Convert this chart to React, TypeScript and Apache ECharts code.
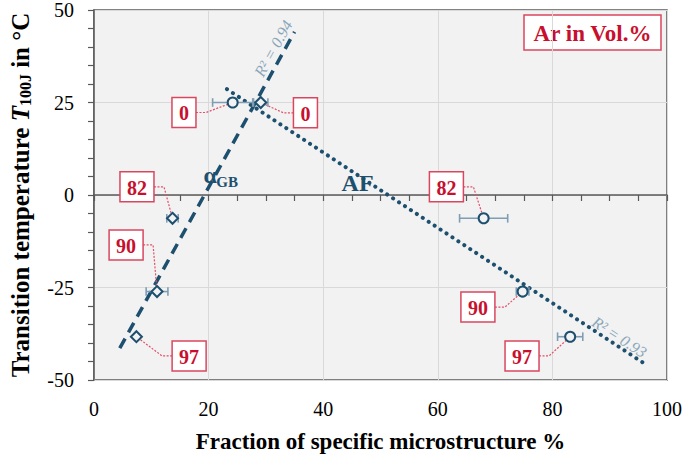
import React, { useEffect, useRef } from 'react';
import * as echarts from 'echarts';

// ---- data ----
const arVol = ['0', '82', '90', '97'];
// Acicular ferrite (AF) – circles
const afX = [24.2, 68.0, 74.8, 83.1];
const afY = [25, -6.3, -26.1, -38.3];
const afErr = [3.5, 4.2, 1.1, 2.2];
// Grain boundary ferrite (alpha_GB) – diamonds
const gbX = [29.1, 13.7, 11.0, 7.4];
const gbY = [25, -6.3, -26.1, -38.3];
const gbErr = [1.25, 1.0, 1.9, 0];
// trend lines (end points)
const gbTrendX = [4.5, 35.0];
const gbTrendY = [-41.4, 44.1];
const afTrendX = [23.2, 96.0];
const afTrendY = [28.6, -45.5];
// callout box anchor positions (data units)
const afCallX = [15.7, 61.5, 67.0, 74.7];
const afCallY = [22.3, 2.2, -30.3, -43.5];
const gbCallX = [36.9, 7.5, 5.6, 16.6];
const gbCallY = [22.2, 2.2, -13.5, -43.5];
// annotation texts and anchors (data units)
const annTexts = ['α', 'AF', 'R² = 0.94', 'R² = 0.93'];
const annX = [20.3, 46.0, 31.3, 91.7];
const annY = [5.4, 3.2, 39.6, -38.4];
const annRot = [0, 0, 61, -33];

const FONT = '"Liberation Serif", "Times New Roman", serif';
const DARK = '#1d4f6e';
const ERR = '#7f9db3';
const RTXT = '#8aa6b9';
const RED = '#c8102e';
const RED_BORDER = '#d9475f';
const AXIS = '#595959';

const errRender = (params: any, api: any) => {
  const x = api.value(0), y = api.value(1), e = api.value(2);
  if (!e) return { type: 'group', children: [] };
  const l = api.coord([x - e, y]);
  const r = api.coord([x + e, y]);
  const c = 4.3;
  const st = { stroke: ERR, lineWidth: 1.6 };
  return {
    type: 'group',
    children: [
      { type: 'line', shape: { x1: l[0], y1: l[1], x2: r[0], y2: r[1] }, style: st },
      { type: 'line', shape: { x1: l[0], y1: l[1] - c, x2: l[0], y2: l[1] + c }, style: st },
      { type: 'line', shape: { x1: r[0], y1: r[1] - c, x2: r[0], y2: r[1] + c }, style: st },
    ],
  };
};

const calloutRender = (params: any, api: any) => {
  const p = api.coord([api.value(0), api.value(1)]);
  const b = api.coord([api.value(2), api.value(3)]);
  const txt = arVol[params.dataIndex % arVol.length];
  const w = txt.length > 1 ? 34 : 24;
  const h = 30;
  const dir = p[0] > b[0] ? 1 : -1;
  const ex = b[0] + (dir * w) / 2;
  const elbow = [ex + dir * 10, b[1]];
  const dx = p[0] - elbow[0];
  const dy = p[1] - elbow[1];
  const len = Math.hypot(dx, dy) || 1;
  const end = [p[0] - (dx / len) * 5, p[1] - (dy / len) * 5];
  return {
    type: 'group',
    children: [
      {
        type: 'polyline',
        shape: { points: [[ex, b[1]], elbow, end] },
        style: { stroke: '#e0506a', lineWidth: 1.2, lineDash: [2, 1.5], fill: null },
      },
      {
        type: 'rect',
        shape: { x: b[0] - w / 2, y: b[1] - h / 2, width: w, height: h },
        style: { fill: '#ffffff', stroke: RED_BORDER, lineWidth: 1.5 },
      },
      {
        type: 'text',
        x: b[0],
        y: b[1] + 1,
        style: {
          text: txt,
          font: `bold 20px ${FONT}`,
          fill: RED,
          align: 'center',
          verticalAlign: 'middle',
          textAlign: 'center',
          textVerticalAlign: 'middle',
        },
      },
    ],
  };
};

const annRender = (params: any, api: any) => {
  const i = params.dataIndex;
  const a = api.coord([api.value(0), api.value(1)]);
  const txt = annTexts[i];
  const isR = txt.startsWith('R');
  const children: any[] = [
    {
      type: 'text',
      x: a[0],
      y: a[1],
      rotation: (annRot[i] * Math.PI) / 180,
      style: {
        text: txt,
        font: isR ? `italic 16px ${FONT}` : `bold 24px ${FONT}`,
        fill: isR ? RTXT : DARK,
        align: 'center',
        verticalAlign: 'middle',
        textAlign: 'center',
        textVerticalAlign: 'middle',
      },
    },
  ];
  if (txt === 'α') {
    children.push({
      type: 'text',
      x: a[0] + 6,
      y: a[1] + 7,
      style: {
        text: 'GB',
        font: `bold 15px ${FONT}`,
        fill: DARK,
        align: 'left',
        verticalAlign: 'middle',
        textAlign: 'left',
        textVerticalAlign: 'middle',
      },
    });
  }
  return { type: 'group', children };
};

export default function App() {
  const ref = useRef<HTMLDivElement>(null);
  useEffect(() => {
    if (!ref.current) return;
    const chart = echarts.init(ref.current, undefined, { renderer: 'svg' });
    const axisLabel = { fontFamily: FONT, fontSize: 20, color: '#000' };
    chart.setOption({
      animation: false,
      backgroundColor: '#ffffff',
      grid: {
        left: 87,
        right: 18,
        top: 10,
        bottom: 81,
        show: true,
        backgroundColor: '#f2f2f2',
        borderColor: AXIS,
        borderWidth: 1.5,
      },
      xAxis: {
        type: 'value',
        min: 0,
        max: 100,
        interval: 20,
        name: 'Fraction of specific microstructure %',
        nameLocation: 'middle',
        nameGap: 50,
        nameTextStyle: { fontFamily: FONT, fontSize: 23, fontWeight: 'bold', color: '#000' },
        axisLine: { lineStyle: { color: AXIS, width: 1.5 } },
        axisTick: { show: true, inside: false, length: 6, lineStyle: { color: AXIS, width: 1.2 } },
        minorTick: { show: true, splitNumber: 4, length: 6, lineStyle: { color: AXIS, width: 1.2 } },
        axisLabel: { ...axisLabel, margin: 19 },
        splitLine: { show: true, lineStyle: { color: '#d9d9d9', width: 1 } },
      },
      yAxis: {
        type: 'value',
        min: -50,
        max: 50,
        interval: 25,
        name: '{b|Transition temperature }{i|T}{s|100J}{b| in °C}',
        nameLocation: 'middle',
        nameGap: 61,
        nameRotate: 90,
        nameTextStyle: {
          fontFamily: FONT,
          fontSize: 25,
          fontWeight: 'bold',
          color: '#000',
          rich: {
            b: { fontFamily: FONT, fontSize: 25, fontWeight: 'bold', color: '#000' },
            i: { fontFamily: FONT, fontSize: 25, fontWeight: 'bold', fontStyle: 'italic', color: '#000' },
            s: { fontFamily: FONT, fontSize: 16, fontWeight: 'bold', color: '#000', verticalAlign: 'bottom' },
          },
        },
        axisLine: { show: true, lineStyle: { color: AXIS, width: 1.5 } },
        axisTick: { show: true, inside: false, length: 6, lineStyle: { color: AXIS, width: 1.2 } },
        minorTick: { show: true, splitNumber: 5, length: 6, lineStyle: { color: AXIS, width: 1.2 } },
        axisLabel: { ...axisLabel, margin: 20 },
        splitLine: { show: true, lineStyle: { color: '#d9d9d9', width: 1 } },
      },
      graphic: [
        {
          type: 'group',
          children: [
            {
              type: 'rect',
              shape: { x: 524, y: 15, width: 137, height: 35 },
              style: { fill: '#ffffff', stroke: RED_BORDER, lineWidth: 1.5 },
            },
            {
              type: 'text',
              x: 592.5,
              y: 33,
              style: {
                text: 'Ar in Vol.%',
                font: `bold 23px ${FONT}`,
                fill: RED,
                align: 'center',
                verticalAlign: 'middle',
                textAlign: 'center',
                textVerticalAlign: 'middle',
              },
            },
          ],
        },
      ],
      series: [
        {
          name: 'αGB trend',
          type: 'line',
          data: gbTrendX.map((x, i) => [x, gbTrendY[i]]),
          showSymbol: false,
          symbol: 'none',
          lineStyle: { color: DARK, width: 3.5, type: [11, 7] },
          z: 2,
        },
        {
          name: 'AF trend',
          type: 'line',
          data: afTrendX.map((x, i) => [x, afTrendY[i]]),
          showSymbol: false,
          symbol: 'none',
          lineStyle: { color: DARK, width: 4, type: [0.1, 7], cap: 'round' },
          z: 2,
        },
        {
          name: 'callouts',
          type: 'custom',
          renderItem: calloutRender,
          data: [
            ...afX.map((x, i) => [x, afY[i], afCallX[i], afCallY[i]]),
            ...gbX.map((x, i) => [x, gbY[i], gbCallX[i], gbCallY[i]]),
          ],
          z: 3,
        },
        {
          name: 'AF err',
          type: 'custom',
          renderItem: errRender,
          data: afX.map((x, i) => [x, afY[i], afErr[i]]),
          z: 4,
        },
        {
          name: 'GB err',
          type: 'custom',
          renderItem: errRender,
          data: gbX.map((x, i) => [x, gbY[i], gbErr[i]]),
          z: 4,
        },
        {
          name: 'AF',
          type: 'scatter',
          symbol: 'circle',
          symbolSize: 10,
          data: afX.map((x, i) => [x, afY[i]]),
          itemStyle: { color: '#f2f2f2', borderColor: DARK, borderWidth: 2, opacity: 1 },
          z: 5,
        },
        {
          name: 'αGB',
          type: 'scatter',
          symbol: 'diamond',
          symbolSize: 11,
          data: gbX.map((x, i) => [x, gbY[i]]),
          itemStyle: { color: '#f2f2f2', borderColor: DARK, borderWidth: 2, opacity: 1 },
          z: 5,
        },
        {
          name: 'annotations',
          type: 'custom',
          renderItem: annRender,
          data: annX.map((x, i) => [x, annY[i]]),
          z: 6,
        },
      ],
    });
    return () => chart.dispose();
  }, []);
  return (
    <div
      ref={ref}
      style={{ position: 'fixed', left: 0, top: 0, width: 685, height: 461 }}
    />
  );
}
